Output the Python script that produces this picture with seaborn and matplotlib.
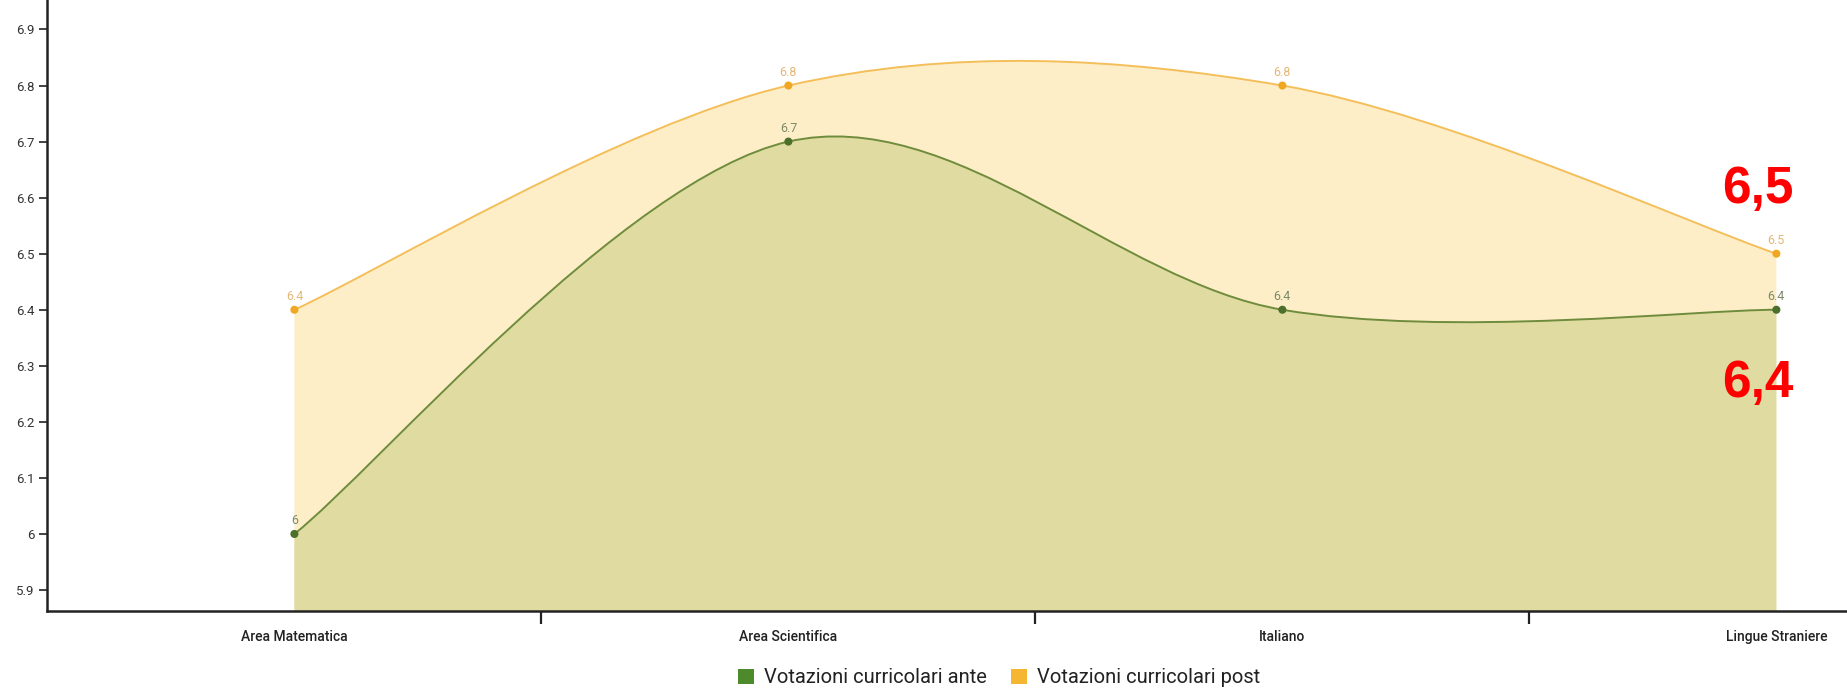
import matplotlib
matplotlib.use('Agg')
import matplotlib.pyplot as plt
from matplotlib.path import Path
from matplotlib.patches import PathPatch, Patch
import numpy as np
import seaborn as sns

# data
subjects = ['Area Matematica', 'Area Scientifica', 'Italiano', 'Lingue Straniere']
ante = [6.0, 6.7, 6.4, 6.4]
post = [6.4, 6.8, 6.8, 6.5]
ante_labels = ['6', '6.7', '6.4', '6.4']
post_labels = ['6.4', '6.8', '6.8', '6.5']
y_ticks = [5.9, 6.0, 6.1, 6.2, 6.3, 6.4, 6.5, 6.6, 6.7, 6.8, 6.9]
y_tick_labels = ['5.9', '6', '6.1', '6.2', '6.3', '6.4', '6.5', '6.6', '6.7', '6.8', '6.9']
series_names = ['Votazioni curricolari ante', 'Votazioni curricolari post']
callouts = ['6,5', '6,4']

sns.set_theme(style='white')
plt.rcParams['font.family'] = ['Roboto', 'DejaVu Sans']

GREEN_LINE = '#6f8c3c'
GREEN_DOT = '#4d6f2c'
GREEN_FILL = '#e0dca1'
ORANGE_LINE = '#f4bf5a'
ORANGE_DOT = '#f0a823'
ORANGE_FILL = '#fdeec8'

Y_BOTTOM = 5.8626


def smooth_path(xs, ys, base=None):
    # catmull-rom style cubic bezier through the data points
    pts = list(zip(xs, ys))
    n = len(pts)
    verts = [pts[0]]
    codes = [Path.MOVETO]
    for i in range(n - 1):
        p0 = pts[max(i - 1, 0)]
        p1 = pts[i]
        p2 = pts[i + 1]
        p3 = pts[min(i + 2, n - 1)]
        c1 = (p1[0] + (p2[0] - p0[0]) / 6, p1[1] + (p2[1] - p0[1]) / 6)
        c2 = (p2[0] - (p3[0] - p1[0]) / 6, p2[1] - (p3[1] - p1[1]) / 6)
        verts += [c1, c2, p2]
        codes += [Path.CURVE4] * 3
    if base is not None:
        verts += [(xs[-1], base), (xs[0], base), (xs[0], base)]
        codes += [Path.LINETO, Path.LINETO, Path.CLOSEPOLY]
    return Path(verts, codes)


fig = plt.figure(figsize=(18.47, 6.95), dpi=100)
ax = fig.add_axes([0.0254, 0.1209, 0.9746, 0.8791])

x = np.arange(len(subjects))

# filled areas
ax.add_patch(PathPatch(smooth_path(x, post, Y_BOTTOM), facecolor=ORANGE_FILL, edgecolor='none', zorder=1))
ax.add_patch(PathPatch(smooth_path(x, ante, Y_BOTTOM), facecolor=GREEN_FILL, edgecolor='none', zorder=2))

# lines
ax.add_patch(PathPatch(smooth_path(x, post), facecolor='none', edgecolor=ORANGE_LINE, lw=1.4, zorder=3))
ax.add_patch(PathPatch(smooth_path(x, ante), facecolor='none', edgecolor=GREEN_LINE, lw=1.4, zorder=3))

# markers
sns.scatterplot(x=x, y=post, color=ORANGE_DOT, s=34, edgecolor='none', ax=ax, zorder=4)
sns.scatterplot(x=x, y=ante, color=GREEN_DOT, s=34, edgecolor='none', ax=ax, zorder=4)

# value labels
for xi, v, lab in zip(x, post, post_labels):
    ax.annotate(lab, (xi, v), xytext=(0, 5), textcoords='offset points',
                ha='center', va='bottom', fontsize=9, color='#e3b877', zorder=5)
for xi, v, lab in zip(x, ante, ante_labels):
    ax.annotate(lab, (xi, v), xytext=(0, 5), textcoords='offset points',
                ha='center', va='bottom', fontsize=9, color='#7d8b68', zorder=5)

# red callouts
ax.text(2.962, 6.614, callouts[0], color='#ff0000', fontsize=37, fontweight='bold',
        family='Liberation Sans', ha='center', va='center', zorder=6)
ax.text(2.962, 6.268, callouts[1], color='#ff0000', fontsize=37, fontweight='bold',
        family='Liberation Sans', ha='center', va='center', zorder=6)

ax.set_xlim(-0.501, 3.143)
ax.set_ylim(Y_BOTTOM, 6.9526)

ax.set_yticks(y_ticks)
ax.set_yticklabels(y_tick_labels)
ax.set_xticks(x)
ax.set_xticklabels(subjects)
ax.set_xticks([0.5, 1.5, 2.5], minor=True)

ax.tick_params(axis='y', which='major', length=6, width=1.2, color='#222222',
               left=True, pad=3, labelsize=9.5, labelcolor='#333333')
ax.tick_params(axis='x', which='major', length=0, pad=14, labelsize=10,
               labelcolor='#222222')
ax.tick_params(axis='x', which='minor', length=9, width=1.6, color='#222222',
               bottom=True, direction='out')
for lab in ax.get_xticklabels():
    lab.set_fontweight('medium')

for side in ['top', 'right']:
    ax.spines[side].set_visible(False)
for side in ['left', 'bottom']:
    ax.spines[side].set_color('#222222')
    ax.spines[side].set_linewidth(1.8)
    ax.spines[side].set_zorder(7)

ax.set_facecolor('white')
ax.grid(False)

handles = [Patch(facecolor='#4c8a2c', edgecolor='none'), Patch(facecolor='#f5b731', edgecolor='none')]
fig.legend(handles, series_names, loc='center', bbox_to_anchor=(0.541, 0.0245), ncol=2,
           frameon=False, fontsize=14.5, handlelength=0.8, handleheight=0.8,
           handletextpad=0.5, columnspacing=1.2, labelcolor='#222222')

fig.savefig('out.png', dpi=100)
